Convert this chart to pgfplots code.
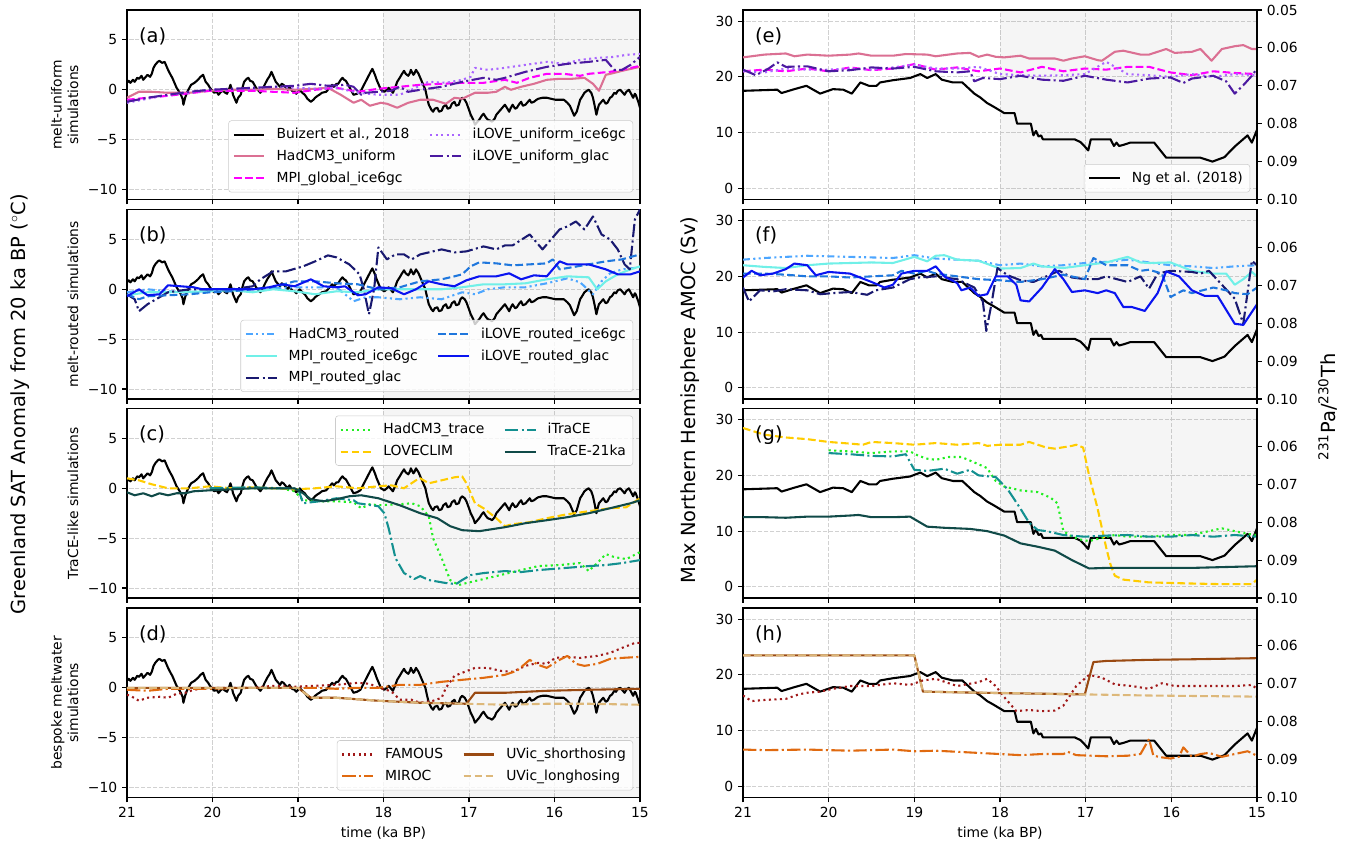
\documentclass[border=0pt]{standalone}
\usepackage{fontspec}
\setmainfont{DejaVu Sans}
\usepackage{pgfplots}
\pgfplotsset{compat=1.18}
\usepackage{pgfplotstable}

\definecolor{hadpink}{HTML}{DB7093}
\definecolor{mpimag}{HTML}{FF00FF}
\definecolor{ilovepurp}{HTML}{AA66FF}
\definecolor{iloveglac}{HTML}{4B1AA0}
\definecolor{hadrouted}{HTML}{4DA6FF}
\definecolor{mpirouted}{HTML}{70F0E8}
\definecolor{mpiglac}{HTML}{191970}
\definecolor{iloverouted}{HTML}{1F77DD}
\definecolor{iloveroutedglac}{HTML}{0A14F0}
\definecolor{hadtrace}{HTML}{22EE22}
\definecolor{loveclim}{HTML}{FFCC00}
\definecolor{itrace}{HTML}{139090}
\definecolor{trace21}{HTML}{104A48}
\definecolor{famous}{HTML}{A01818}
\definecolor{miroc}{HTML}{E06A10}
\definecolor{uvicshort}{HTML}{9A4A12}
\definecolor{uviclong}{HTML}{DDB87A}

\newcommand{\lea}[1]{\hbox to 6pt{}#1\hbox to 12pt{}}
\newcommand{\leb}[1]{\hbox to 6pt{}#1}

\tikzset{
  lsolid/.style={line width=1.5pt},
  ldashed/.style={line width=1.5pt, dash pattern=on 5.55pt off 2.4pt},
  ldotted/.style={line width=1.5pt, dash pattern=on 1.5pt off 2.475pt},
  ldashdot/.style={line width=1.5pt, dash pattern=on 9.6pt off 2.4pt on 1.5pt off 2.4pt},
  ldashdotdot/.style={line width=1.5pt, dash pattern=on 5pt off 2.4pt on 1.5pt off 2.4pt on 1.5pt off 2.4pt},
}

\pgfplotsset{
  panelbase/.style={
    scale only axis, anchor=north west, height=136.44pt,
    xmin=15, xmax=21, x dir=reverse,
    xtick={15,16,17,18,19,20,21},
    xticklabels={15,16,17,18,19,20,21},
    tick align=outside, xtick pos=left, ytick pos=left,
    major tick length=3.5pt,
    every tick/.style={black, line width=0.8pt},
    axis line style={line width=0.8pt},
    grid=major,
    grid style={black!18, line width=0.7pt, dash pattern=on 2.96pt off 1.28pt},
    tick label style={font=\fontsize{10}{12}\selectfont},
    label style={font=\fontsize{10}{12}\selectfont},
    every axis plot/.append style={line join=round},
    legend cell align=left,
    legend image code/.code={\draw[##1] (0pt,0pt) -- (22pt,0pt);},
    legend style={draw=black!20, fill=white, fill opacity=0.8, text opacity=1,
      rounded corners=2pt, font=\fontsize{10}{12}\selectfont,
      inner xsep=3pt, inner ysep=3.5pt, row sep=2.6pt},
  },
  leftpanel/.style={panelbase, width=369.36pt, ymin=-11, ymax=8,
    ytick={-10,-5,0,5}, yticklabels={−10,−5,0,5},
    ylabel style={align=center}},
  rightpanel/.style={panelbase, width=370.08pt, ymin=-2, ymax=32,
    ytick={0,10,20,30}, yticklabels={0,10,20,30}},
  notick/.style={xticklabels={}},
  rightaxis/.style={scale only axis, anchor=north west, width=370.08pt, height=136.44pt,
    xmin=15, xmax=21, hide x axis, axis y line*=right,
    ymin=0.05, ymax=0.10, y dir=reverse,
    ytick={0.06,0.07,0.08,0.09,0.10},
    yticklabels={0.06,0.07,0.08,0.09,0.10},
    tick align=outside, major tick length=3.5pt,
    every tick/.style={black, line width=0.8pt},
    axis line style={line width=0.8pt},
    tick label style={font=\fontsize{10}{12}\selectfont}},
  lowright/.style={legend style={at={(0.9865,0.037)}, anchor=south east}},
  upright/.style={legend style={at={(0.9865,0.963)}, anchor=north east}},
}

\pgfplotstableread{
x y
21.00 0.7
20.98 0.9
20.96 0.7
20.93 1.0
20.91 0.8
20.88 1.2
20.86 1.1
20.83 1.4
20.81 1.0
20.78 1.3
20.76 1.5
20.73 1.3
20.71 1.6
20.69 2.2
20.67 2.5
20.64 2.8
20.62 2.9
20.59 2.7
20.56 2.8
20.54 2.4
20.52 2.0
20.49 1.5
20.47 1.2
20.44 0.6
20.42 0.2
20.39 -0.2
20.37 -0.5
20.35 -0.9
20.34 -1.5
20.32 -0.8
20.30 -0.3
20.27 0.2
20.25 0.5
20.21 0.7
20.17 1.0
20.14 1.3
20.11 1.5
20.08 0.8
20.05 0.5
20.03 0.2
20.00 -0.1
19.98 -0.3
19.95 -0.2
19.93 -0.5
19.90 -0.2
19.88 -0.1
19.85 -0.3
19.83 -0.4
19.81 0.0
19.79 0.5
19.77 -0.1
19.76 -0.5
19.74 -0.9
19.72 -1.3
19.70 -0.8
19.67 -0.5
19.65 0.2
19.63 0.8
19.60 1.1
19.58 1.2
19.56 0.9
19.53 0.8
19.51 0.5
19.49 0.2
19.46 -0.1
19.44 -0.3
19.41 0.1
19.39 0.5
19.36 1.0
19.33 1.4
19.31 1.8
19.28 1.2
19.26 0.8
19.23 0.5
19.21 0.3
19.19 0.6
19.17 0.5
19.14 0.2
19.12 0.0
19.10 0.3
19.07 -0.1
19.04 -0.2
19.02 -0.4
18.98 0.0
18.95 -0.3
18.92 -0.5
18.89 -0.9
18.85 -1.2
18.82 -1.0
18.80 -0.8
18.77 -0.6
18.75 -0.5
18.72 -0.3
18.67 -0.2
18.64 0.1
18.62 0.3
18.60 0.5
18.58 0.3
18.55 0.6
18.53 0.6
18.50 1.0
18.48 1.2
18.46 1.0
18.44 0.9
18.42 0.6
18.40 0.3
18.37 -0.2
18.35 -0.5
18.31 -0.4
18.27 -0.2
18.24 0.3
18.21 0.8
18.18 1.3
18.15 1.8
18.13 2.1
18.10 1.5
18.08 1.0
18.05 0.4
18.03 0.0
17.99 -0.2
17.96 0.0
17.94 0.2
17.91 -0.1
17.89 -0.3
17.86 0.3
17.84 0.8
17.81 1.2
17.79 1.5
17.76 1.9
17.74 1.6
17.71 1.4
17.69 1.7
17.68 2.0
17.65 1.5
17.64 1.6
17.62 2.0
17.59 1.6
17.57 1.2
17.54 0.6
17.51 0.0
17.49 -0.8
17.47 -1.5
17.44 -2.0
17.42 -2.2
17.40 -1.9
17.37 -1.8
17.35 -2.2
17.32 -2.1
17.30 -1.7
17.27 -1.5
17.25 -1.9
17.22 -1.8
17.20 -1.4
17.17 -1.2
17.15 -1.6
17.12 -1.5
17.10 -1.0
17.08 -0.8
17.05 -1.0
17.03 -1.3
17.00 -2.0
16.98 -2.5
16.95 -3.0
16.93 -3.5
16.90 -3.2
16.88 -3.0
16.85 -2.6
16.83 -2.4
16.80 -2.8
16.78 -3.0
16.75 -3.1
16.73 -3.2
16.70 -2.9
16.68 -2.5
16.65 -2.2
16.63 -2.0
16.60 -1.7
16.58 -1.5
16.55 -1.9
16.53 -2.2
16.51 -1.8
16.49 -1.5
16.46 -1.9
16.44 -1.8
16.41 -1.4
16.39 -1.2
16.37 -1.6
16.34 -1.5
16.31 -1.2
16.29 -1.0
16.27 -1.3
16.24 -1.2
16.21 -1.0
16.19 -0.9
16.14 -0.8
16.09 -0.8
16.04 -0.9
15.99 -1.0
15.94 -1.0
15.89 -1.0
15.85 -1.3
15.82 -1.6
15.79 -2.2
15.77 -2.6
15.74 -2.2
15.72 -1.6
15.70 -1.0
15.67 -0.6
15.65 -0.3
15.62 -0.1
15.60 0.0
15.57 -0.3
15.55 -0.8
15.53 -1.6
15.51 -2.5
15.49 -1.8
15.48 -1.5
15.45 -1.2
15.43 -1.0
15.40 -1.4
15.38 -1.3
15.35 -0.8
15.33 -0.7
15.30 -0.3
15.28 -0.4
15.26 -0.1
15.23 0.0
15.21 -0.2
15.18 -0.5
15.16 -0.2
15.13 0.0
15.11 -0.3
15.08 -0.8
15.06 -0.4
15.05 -0.5
15.02 -1.2
15.00 -1.8
}\buizert

\pgfplotstableread{
x y
21.00 17.5
20.60 17.7
20.55 17.1
20.40 17.8
20.26 18.4
20.10 17.0
19.95 17.8
19.83 17.7
19.73 17.0
19.63 19.0
19.53 18.4
19.44 18.4
19.40 19.0
19.25 19.4
19.05 19.8
18.93 20.5
18.85 19.8
18.75 20.5
18.68 19.5
18.55 19.0
18.44 19.0
18.30 17.0
18.23 16.3
18.15 15.3
18.08 14.7
17.95 13.5
17.83 13.5
17.80 11.6
17.64 11.6
17.61 9.5
17.58 10.3
17.55 9.3
17.52 9.5
17.50 8.8
17.38 8.8
17.23 8.8
17.13 8.8
17.06 8.3
17.01 7.5
16.97 6.8
16.94 8.8
16.71 8.8
16.67 7.6
16.64 8.2
16.61 7.6
16.56 7.8
16.48 8.2
16.20 8.2
16.06 5.5
15.66 5.5
15.52 4.8
15.38 5.6
15.26 7.5
15.11 9.5
15.06 8.2
15.00 10.5
}\ng

\begin{document}
\begin{tikzpicture}
\useasboundingbox (0,0) rectangle (970.56pt,-606.96pt);

% ---------------- (a)
\begin{axis}[leftpanel, notick, at={(91.44pt,-7.2pt)}, ylabel={melt-uniform\\simulations},
  lowright, legend columns=2]
\addplot[draw=none, fill=gray, fill opacity=0.08, forget plot] coordinates {(18,-11) (18,8) (15,8) (15,-11)} -- cycle;
\addlegendimage{black, lsolid}\addlegendentry{\lea{Buizert et al., 2018}}
\addlegendimage{ilovepurp, ldotted}\addlegendentry{\leb{iLOVE\_uniform\_ice6gc}}
\addlegendimage{hadpink, lsolid}\addlegendentry{\lea{HadCM3\_uniform}}
\addlegendimage{iloveglac, ldashdot}\addlegendentry{\leb{iLOVE\_uniform\_glac}}
\addlegendimage{mpimag, ldashed}\addlegendentry{\lea{MPI\_global\_ice6gc}}
\addplot[black, lsolid, forget plot] table[x=x,y=y] {\buizert};
\addplot[hadpink, lsolid, forget plot] coordinates {(21,-0.8) (20.86,-0.2) (20.71,-0.2) (20.52,-0.3) (20.27,-0.3) (20.03,-0.1) (19.78,0.0) (19.53,0.0) (19.29,0.1) (19.04,0.0) (18.80,0.1) (18.65,0.2) (18.50,-0.5) (18.35,-1.3) (18.26,-1.0) (18.16,-1.6) (18.03,-1.3) (17.96,-1.4) (17.84,-1.8) (17.71,-1.3) (17.57,-1.0) (17.42,-1.0) (17.27,-1.4) (17.17,-0.8) (17.08,-0.9) (16.93,-0.3) (16.78,-0.3) (16.68,-0.2) (16.58,0.3) (16.51,0.0) (16.39,0.3) (16.24,0.6) (16.09,1.0) (15.94,1.1) (15.80,1.1) (15.65,1.2) (15.55,0.6) (15.48,-0.1) (15.40,1.5) (15.30,1.7) (15.21,1.9) (15.00,2.3)};
\addplot[mpimag, ldashed, forget plot] coordinates {(21,-1.0) (20.52,-0.6) (20.03,-0.1) (19.53,-0.1) (19.29,-0.2) (19.04,-0.3) (18.80,0.0) (18.55,0.2) (18.30,-0.2) (18.06,0.1) (17.81,0.3) (17.57,0.5) (17.32,0.6) (17.08,0.7) (16.83,0.7) (16.58,1.0) (16.44,0.7) (16.29,1.2) (16.09,1.6) (15.89,1.6) (15.70,1.4) (15.60,1.6) (15.35,1.8) (15.21,2.0) (15.00,2.4)};
\addplot[ilovepurp, ldotted, forget plot] coordinates {(21,-1.3) (20.76,-0.9) (20.52,-0.5) (20.27,-0.3) (20.03,0.0) (19.53,0.1) (19.29,0.3) (19.04,0.2) (18.80,0.1) (18.55,0.2) (18.30,-0.3) (18.06,-0.5) (17.81,-0.5) (17.62,0.2) (17.57,0.5) (17.47,0.8) (17.27,0.7) (17.08,1.0) (16.98,1.3) (16.93,2.2) (16.78,2.0) (16.58,2.2) (16.34,2.5) (16.09,2.8) (15.89,2.6) (15.70,3.0) (15.50,3.2) (15.30,3.3) (15.16,3.5) (15.00,3.6)};
\addplot[iloveglac, ldashdot, forget plot] coordinates {(21,-1.2) (20.76,-0.8) (20.52,-0.5) (20.27,-0.2) (20.03,0.0) (19.78,0.1) (19.53,0.2) (19.29,0.3) (19.04,0.4) (18.85,0.6) (18.65,0.4) (18.45,0.5) (18.35,0.3) (18.26,-0.5) (18.21,-0.3) (18.06,-0.2) (17.91,-0.1) (17.81,0.3) (17.71,-0.2) (17.57,0.0) (17.32,0.3) (17.08,0.8) (16.83,1.2) (16.68,1.0) (16.58,1.2) (16.34,1.8) (16.09,2.3) (15.85,2.6) (15.60,2.8) (15.40,3.0) (15.30,2.0) (15.21,2.0) (15.11,2.5) (15.00,3.3)};
\node[anchor=north west, inner sep=0pt, font=\fontsize{14}{16}\selectfont] at (rel axis cs:0.023,0.91) {(a)};
\end{axis}

% ---------------- (b)
\begin{axis}[leftpanel, notick, at={(91.44pt,-150.84pt)}, ylabel={melt-routed simulations},
  lowright, legend columns=2]
\addplot[draw=none, fill=gray, fill opacity=0.08, forget plot] coordinates {(18,-11) (18,8) (15,8) (15,-11)} -- cycle;
\addlegendimage{hadrouted, ldashdotdot}\addlegendentry{\lea{HadCM3\_routed}}
\addlegendimage{iloverouted, ldashed}\addlegendentry{\leb{iLOVE\_routed\_ice6gc}}
\addlegendimage{mpirouted, lsolid}\addlegendentry{\lea{MPI\_routed\_ice6gc}}
\addlegendimage{iloveroutedglac, lsolid}\addlegendentry{\leb{iLOVE\_routed\_glac}}
\addlegendimage{mpiglac, ldashdot}\addlegendentry{\lea{MPI\_routed\_glac}}
\addplot[black, lsolid, forget plot] table[x=x,y=y] {\buizert};
\addplot[hadrouted, ldashdotdot, forget plot] coordinates {(21,-0.3) (20.76,0.0) (20.52,-0.2) (20.27,-0.3) (20.03,-0.1) (19.53,0.0) (19.04,0.2) (18.55,0.2) (18.45,-0.5) (18.35,-1.2) (18.21,-0.8) (18.06,-0.8) (17.81,-1.0) (17.57,-0.8) (17.32,-1.0) (17.08,-0.3) (16.93,-0.5) (16.78,0.0) (16.58,0.2) (16.34,0.2) (16.09,0.6) (15.85,1.1) (15.70,0.7) (15.55,-0.5) (15.45,0.8) (15.35,1.6) (15.21,2.0) (15.00,2.2)};
\addplot[mpirouted, lsolid, forget plot] coordinates {(21,-0.6) (20.76,-0.3) (20.52,-0.3) (20.03,-0.2) (19.78,-0.1) (19.53,-0.3) (19.29,0.0) (19.04,-0.2) (18.80,-0.5) (18.55,-0.2) (18.30,-0.3) (18.06,0.0) (17.57,0.0) (17.32,0.0) (17.08,0.2) (16.83,0.5) (16.58,0.5) (16.34,0.6) (16.09,1.0) (15.85,1.3) (15.60,1.2) (15.50,0.0) (15.40,0.8) (15.26,1.5) (15.11,2.0) (15.00,2.3)};
\addplot[mpiglac, ldashdot, forget plot] coordinates {(21,-0.5) (20.91,-1.0) (20.86,-2.2) (20.76,-1.5) (20.52,-0.3) (20.27,0.0) (20.03,0.0) (19.78,0.0) (19.53,0.3) (19.44,1.0) (19.29,1.8) (19.14,1.8) (18.94,2.3) (18.80,2.8) (18.65,3.4) (18.55,3.2) (18.40,2.5) (18.28,1.5) (18.23,0.0) (18.17,-2.5) (18.11,0.0) (18.06,4.2) (17.96,3.0) (17.86,3.5) (17.76,3.5) (17.67,3.0) (17.57,3.5) (17.32,4.0) (17.17,3.7) (17.03,3.8) (16.83,4.3) (16.68,4.0) (16.58,4.4) (16.49,4.4) (16.29,5.5) (16.14,4.0) (16.04,5.0) (15.94,6.0) (15.85,6.3) (15.75,6.8) (15.65,6.0) (15.55,7.3) (15.45,5.5) (15.35,5.0) (15.26,4.0) (15.18,2.5) (15.12,2.0) (15.06,7.0) (15.00,8.0)};
\addplot[iloverouted, ldashed, forget plot] coordinates {(21,-0.5) (20.86,-1.0) (20.76,-0.7) (20.52,-0.6) (20.27,-0.5) (20.03,-0.3) (19.78,-0.2) (19.53,0.0) (19.29,0.2) (19.04,0.8) (18.80,0.8) (18.55,0.6) (18.30,0.5) (18.06,0.0) (17.81,0.2) (17.57,0.8) (17.32,1.0) (17.17,1.3) (17.08,1.5) (16.98,2.3) (16.88,2.7) (16.68,2.6) (16.49,2.4) (16.29,2.5) (16.09,2.6) (16.02,3.0) (15.94,2.0) (15.80,2.2) (15.60,2.5) (15.40,2.8) (15.21,3.0) (15.00,3.5)};
\addplot[iloveroutedglac, lsolid, forget plot] coordinates {(21,-0.7) (20.86,0.0) (20.76,-0.6) (20.62,-0.5) (20.52,0.4) (20.37,0.3) (20.22,0.2) (20.12,0.0) (20.03,0.0) (19.53,0.0) (19.34,0.2) (19.19,0.5) (19.04,0.3) (18.85,1.0) (18.70,0.3) (18.55,0.2) (18.45,0.3) (18.30,-0.6) (18.21,-0.5) (18.06,0.2) (17.91,0.1) (17.76,-0.5) (17.62,0.0) (17.47,0.8) (17.32,0.5) (17.17,0.3) (17.03,0.9) (16.88,1.3) (16.68,1.3) (16.53,1.6) (16.39,1.0) (16.24,1.4) (16.09,1.3) (15.94,2.8) (15.85,2.5) (15.60,2.5) (15.40,2.0) (15.26,1.5) (15.11,1.5) (15.00,1.8)};
\node[anchor=north west, inner sep=0pt, font=\fontsize{14}{16}\selectfont] at (rel axis cs:0.023,0.91) {(b)};
\end{axis}

% ---------------- (c)
\begin{axis}[leftpanel, notick, at={(91.44pt,-294.12pt)}, ylabel={TraCE-like simulations},
  upright, legend columns=2]
\addplot[draw=none, fill=gray, fill opacity=0.08, forget plot] coordinates {(18,-11) (18,8) (15,8) (15,-11)} -- cycle;
\addlegendimage{hadtrace, ldotted}\addlegendentry{\lea{HadCM3\_trace}}
\addlegendimage{itrace, ldashdot}\addlegendentry{\leb{iTraCE}}
\addlegendimage{loveclim, ldashed}\addlegendentry{\lea{LOVECLIM}}
\addlegendimage{trace21, lsolid}\addlegendentry{\leb{TraCE-21ka}}
\addplot[black, lsolid, forget plot] table[x=x,y=y] {\buizert};
\addplot[hadtrace, ldotted, forget plot] coordinates {(20.03,0.0) (19.53,0.0) (19.20,0.0) (19.04,-0.3) (18.94,-1.2) (18.75,-1.3) (18.55,-1.3) (18.35,-1.4) (18.26,-2.0) (18.16,-1.6) (18.06,-1.7) (17.81,-1.6) (17.67,-1.5) (17.57,-1.8) (17.47,-2.8) (17.42,-5.0) (17.32,-7.0) (17.22,-9.2) (17.12,-9.7) (17.03,-9.5) (16.88,-9.2) (16.68,-8.8) (16.44,-8.3) (16.19,-7.8) (15.94,-7.7) (15.70,-7.5) (15.60,-8.3) (15.50,-7.5) (15.40,-6.6) (15.30,-6.9) (15.16,-7.1) (15.00,-6.4)};
\addplot[loveclim, ldashed, forget plot] coordinates {(21,1.0) (20.86,0.8) (20.71,0.4) (20.52,0.0) (20.27,0.0) (20.03,0.2) (19.78,0.0) (19.53,0.1) (19.29,0.0) (19.04,-0.1) (18.80,0.0) (18.55,0.2) (18.30,0.0) (18.06,0.2) (17.91,0.3) (17.76,0.0) (17.62,0.8) (17.57,1.0) (17.47,0.5) (17.32,0.8) (17.17,1.1) (17.08,1.2) (17.03,0.5) (16.93,-1.5) (16.83,-2.0) (16.68,-3.0) (16.58,-3.8) (16.49,-3.6) (16.29,-3.4) (16.09,-3.0) (15.85,-2.6) (15.60,-2.3) (15.35,-2.0) (15.16,-1.9) (15.00,-1.0)};
\addplot[itrace, ldashdot, forget plot] coordinates {(20.03,0.0) (19.53,0.1) (19.20,0.0) (19.00,0.0) (18.94,-1.5) (18.75,-1.3) (18.55,-1.0) (18.35,-1.2) (18.30,-1.5) (18.06,-1.8) (17.99,-2.5) (17.94,-4.0) (17.86,-7.0) (17.76,-8.5) (17.64,-9.1) (17.57,-8.8) (17.47,-9.2) (17.27,-9.5) (17.15,-9.6) (17.08,-9.2) (16.98,-8.7) (16.83,-8.5) (16.58,-8.3) (16.39,-8.4) (16.19,-8.2) (15.89,-8.0) (15.60,-7.8) (15.40,-7.7) (15.21,-7.5) (15.00,-7.2)};
\addplot[trace21, lsolid, forget plot] coordinates {(21,-0.4) (20.91,-0.7) (20.81,-0.5) (20.71,-0.8) (20.62,-0.5) (20.52,-0.7) (20.42,-0.5) (20.32,-0.5) (20.22,-0.3) (20.03,-0.2) (19.78,-0.1) (19.53,0.0) (19.04,0.0) (18.94,-0.5) (18.85,-1.1) (18.70,-1.3) (18.55,-1.1) (18.40,-0.8) (18.26,-0.7) (18.06,-1.0) (17.81,-1.7) (17.57,-2.5) (17.37,-3.0) (17.22,-3.8) (17.08,-4.2) (16.88,-4.3) (16.73,-4.1) (16.58,-3.9) (16.34,-3.5) (16.09,-3.2) (15.85,-2.9) (15.60,-2.5) (15.35,-2.0) (15.11,-1.5) (15.00,-1.2)};
\node[anchor=north west, inner sep=0pt, font=\fontsize{14}{16}\selectfont] at (rel axis cs:0.023,0.91) {(c)};
\end{axis}

% ---------------- (d)
\begin{axis}[leftpanel, at={(91.44pt,-437.76pt)}, ylabel={bespoke meltwater\\simulations},
  xlabel={time (ka BP)}, lowright, legend columns=2]
\addplot[draw=none, fill=gray, fill opacity=0.08, forget plot] coordinates {(18,-11) (18,8) (15,8) (15,-11)} -- cycle;
\addlegendimage{famous, ldotted}\addlegendentry{\lea{FAMOUS}}
\addlegendimage{uvicshort, lsolid}\addlegendentry{\leb{UVic\_shorthosing}}
\addlegendimage{miroc, ldashdot}\addlegendentry{\lea{MIROC}}
\addlegendimage{uviclong, ldashed}\addlegendentry{\leb{UVic\_longhosing}}
\addplot[black, lsolid, forget plot] table[x=x,y=y] {\buizert};
\addplot[famous, ldotted, forget plot] coordinates {(21,-0.7) (20.96,-0.8) (20.86,-1.3) (20.76,-1.0) (20.62,-0.9) (20.52,-1.0) (20.42,-0.6) (20.32,-0.5) (20.22,-0.2) (20.03,0.0) (19.53,0.0) (19.29,0.2) (19.04,0.1) (18.80,0.2) (18.55,0.3) (18.30,0.5) (18.16,0.4) (18.06,0.0) (17.96,-0.2) (17.89,-0.5) (17.81,-1.2) (17.67,-1.2) (17.57,-1.5) (17.42,-1.3) (17.32,-1.0) (17.27,0.0) (17.17,1.2) (17.08,1.5) (16.93,2.0) (16.78,2.0) (16.63,1.7) (16.49,1.6) (16.34,2.2) (16.19,2.5) (16.09,2.4) (15.99,3.0) (15.85,3.1) (15.70,3.0) (15.50,3.2) (15.35,3.5) (15.21,4.0) (15.06,4.5) (15.00,4.5)};
\addplot[miroc, ldashdot, forget plot] coordinates {(21,-0.2) (20.76,-0.3) (20.52,-0.1) (20.03,-0.1) (19.53,0.0) (18.80,0.0) (18.55,-0.1) (18.30,0.0) (18.06,0.0) (17.81,0.3) (17.57,0.3) (17.32,0.6) (17.08,0.8) (16.83,1.0) (16.58,1.3) (16.44,1.7) (16.29,2.8) (16.19,2.3) (16.09,2.0) (15.94,2.8) (15.85,3.2) (15.75,2.4) (15.65,2.2) (15.50,2.4) (15.35,2.9) (15.21,3.0) (15.00,3.1)};
\addplot[uvicshort, lsolid, forget plot] coordinates {(21,0.0) (19.00,0.0) (18.85,-1.0) (18.55,-1.0) (18.06,-1.3) (17.57,-1.5) (17.03,-1.6) (16.93,-0.5) (16.58,-0.5) (16.09,-0.3) (15.60,-0.2) (15.00,-0.1)};
\addplot[uviclong, ldashed, forget plot] coordinates {(21,0.0) (19.00,0.0) (18.85,-1.0) (18.55,-1.0) (18.06,-1.3) (17.57,-1.5) (17.03,-1.6) (16.58,-1.7) (16.09,-1.6) (15.60,-1.6) (15.00,-1.7)};
\node[anchor=north west, inner sep=0pt, font=\fontsize{14}{16}\selectfont] at (rel axis cs:0.023,0.91) {(d)};
\end{axis}

% ---------------- (e)
\begin{axis}[rightpanel, notick, at={(534.96pt,-7.2pt)}, lowright]
\addplot[draw=none, fill=gray, fill opacity=0.08, forget plot] coordinates {(18,-2) (18,32) (15,32) (15,-2)} -- cycle;
\addlegendimage{black, lsolid}\addlegendentry{\leb{Ng et al. (2018)}}
\addplot[black, lsolid, forget plot] table[x=x,y=y] {\ng};
\addplot[hadpink, lsolid, forget plot] coordinates {(21,23.5) (20.75,24.0) (20.50,24.2) (20.40,23.7) (20.25,24.0) (20.00,23.8) (19.75,24.0) (19.65,24.2) (19.50,23.8) (19.25,23.8) (19.10,24.1) (18.85,24.0) (18.75,23.7) (18.50,24.2) (18.35,24.3) (18.25,23.6) (18.15,24.0) (18.05,23.6) (17.95,23.5) (17.76,23.8) (17.66,23.3) (17.51,23.3) (17.36,23.3) (17.26,22.9) (17.16,23.3) (17.01,23.7) (16.86,23.0) (16.81,22.9) (16.66,24.5) (16.56,24.7) (16.36,24.0) (16.26,24.0) (16.06,25.0) (15.96,24.3) (15.76,24.5) (15.66,25.0) (15.53,22.9) (15.41,25.0) (15.26,25.5) (15.16,25.7) (15.06,25.0) (15.00,25.0)};
\addplot[mpimag, ldashed, forget plot] coordinates {(21,21.0) (20.75,21.3) (20.50,21.0) (20.25,21.5) (20.00,21.0) (19.75,21.7) (19.50,21.2) (19.25,21.5) (19.00,22.3) (18.75,21.3) (18.50,21.7) (18.25,21.0) (18.00,21.5) (17.76,20.8) (17.51,21.8) (17.26,21.0) (17.01,21.5) (16.76,21.3) (16.51,21.8) (16.26,21.8) (16.01,20.8) (15.76,20.3) (15.51,21.0) (15.26,20.7) (15.00,20.5)};
\addplot[ilovepurp, ldotted, forget plot] coordinates {(21,21.0) (20.75,20.8) (20.50,21.5) (20.25,21.3) (20.00,21.3) (19.75,21.5) (19.50,21.3) (19.25,21.7) (19.00,22.2) (18.75,21.5) (18.50,21.5) (18.25,21.8) (18.00,20.5) (17.76,20.3) (17.51,20.2) (17.26,20.3) (17.01,20.5) (16.76,22.7) (16.51,20.5) (16.26,20.3) (16.01,20.0) (15.76,20.5) (15.51,20.0) (15.26,20.5) (15.00,20.3)};
\addplot[iloveglac, ldashdot, forget plot] coordinates {(21,21.3) (20.85,20.3) (20.70,21.5) (20.60,22.6) (20.50,21.8) (20.25,21.9) (20.00,21.0) (19.75,21.2) (19.50,21.7) (19.25,21.5) (19.00,21.8) (18.75,21.0) (18.50,20.8) (18.35,21.0) (18.30,19.2) (18.20,19.8) (18.00,19.6) (17.76,20.2) (17.51,19.5) (17.26,19.3) (17.01,20.2) (16.76,19.5) (16.51,19.0) (16.26,19.7) (16.01,19.9) (15.86,18.9) (15.76,19.7) (15.51,20.2) (15.36,19.2) (15.26,17.0) (15.16,18.5) (15.06,20.2) (15.00,21.5)};
\node[anchor=north west, inner sep=0pt, font=\fontsize{14}{16}\selectfont] at (rel axis cs:0.023,0.91) {(e)};
\end{axis}
\begin{axis}[rightaxis, at={(534.96pt,-7.2pt)}, ytick={0.05,0.06,0.07,0.08,0.09,0.10}, yticklabels={0.05,0.06,0.07,0.08,0.09,0.10}]
\addplot[draw=none] coordinates {(15,0.05)};
\end{axis}

% ---------------- (f)
\begin{axis}[rightpanel, notick, at={(534.96pt,-150.84pt)}]
\addplot[draw=none, fill=gray, fill opacity=0.08, forget plot] coordinates {(18,-2) (18,32) (15,32) (15,-2)} -- cycle;
\addplot[black, lsolid, forget plot] table[x=x,y=y] {\ng};
\addplot[hadrouted, ldashdotdot, forget plot] coordinates {(21,23.0) (20.75,23.3) (20.25,23.7) (19.75,23.5) (19.25,23.3) (19.00,23.8) (18.75,23.2) (18.50,23.0) (18.25,22.8) (18.00,22.0) (17.76,22.3) (17.51,21.8) (17.26,22.0) (17.01,22.4) (16.76,22.6) (16.51,23.0) (16.26,22.5) (16.01,22.0) (15.76,21.8) (15.51,21.5) (15.26,21.8) (15.00,22.0)};
\addplot[mpirouted, lsolid, forget plot] coordinates {(21,22.0) (20.75,21.7) (20.50,21.5) (20.25,22.0) (20.00,22.3) (19.75,22.4) (19.50,22.5) (19.25,22.4) (19.00,23.5) (18.85,22.7) (18.75,23.7) (18.65,23.8) (18.50,23.0) (18.25,22.8) (18.00,21.4) (17.76,21.5) (17.61,22.3) (17.51,21.8) (17.26,21.5) (17.01,22.0) (16.76,22.5) (16.51,23.5) (16.36,22.5) (16.26,22.4) (16.01,22.5) (15.76,21.0) (15.51,20.5) (15.36,20.5) (15.26,18.5) (15.16,19.5) (15.06,20.8) (15.00,20.0)};
\addplot[mpiglac, ldashdot, forget plot] coordinates {(21,18.0) (20.93,15.5) (20.80,17.5) (20.65,17.3) (20.50,17.7) (20.25,17.5) (20.10,16.8) (19.95,17.0) (19.75,17.2) (19.55,16.7) (19.45,17.5) (19.25,18.0) (19.05,19.5) (18.95,19.8) (18.75,20.0) (18.50,19.5) (18.30,18.0) (18.20,15.5) (18.16,10.2) (18.10,15.0) (18.03,21.5) (17.91,20.2) (17.76,19.3) (17.61,19.0) (17.46,20.0) (17.31,21.0) (17.16,19.8) (17.01,19.5) (16.86,19.5) (16.76,20.0) (16.51,19.0) (16.36,20.0) (16.26,17.8) (16.16,20.5) (16.01,21.0) (15.76,20.8) (15.66,20.5) (15.56,21.0) (15.41,18.5) (15.26,16.0) (15.16,11.5) (15.06,22.8) (15.00,22.0)};
\addplot[iloverouted, ldashed, forget plot] coordinates {(21,20.5) (20.75,20.5) (20.50,20.3) (20.25,20.0) (20.00,20.0) (19.75,19.8) (19.50,20.0) (19.25,20.2) (19.15,21.0) (19.00,20.5) (18.85,21.0) (18.75,20.5) (18.50,20.0) (18.25,19.5) (18.00,19.3) (17.76,19.0) (17.51,19.5) (17.26,20.3) (17.01,19.5) (16.91,23.3) (16.76,22.0) (16.51,22.0) (16.36,21.0) (16.26,21.2) (16.11,20.5) (16.01,16.3) (15.86,17.5) (15.76,17.0) (15.51,18.0) (15.36,17.5) (15.26,17.0) (15.11,16.8) (15.00,18.0)};
\addplot[iloveroutedglac, lsolid, forget plot] coordinates {(21,19.8) (20.90,21.0) (20.80,20.2) (20.65,20.5) (20.50,21.3) (20.40,22.3) (20.25,22.0) (20.15,20.2) (20.00,20.8) (19.75,20.5) (19.50,19.0) (19.35,18.0) (19.25,18.5) (19.15,20.5) (19.00,21.0) (18.85,21.0) (18.75,21.8) (18.65,20.0) (18.50,18.8) (18.45,17.5) (18.35,18.0) (18.25,16.5) (18.15,16.8) (18.05,20.0) (17.91,20.0) (17.81,18.5) (17.76,15.7) (17.66,15.5) (17.51,18.0) (17.36,21.3) (17.26,19.5) (17.16,17.2) (17.01,17.5) (16.86,17.0) (16.76,17.5) (16.66,17.0) (16.56,14.5) (16.46,14.5) (16.31,13.8) (16.16,17.0) (16.06,20.9) (15.91,20.0) (15.76,17.5) (15.61,16.5) (15.46,16.5) (15.26,11.5) (15.16,11.3) (15.00,15.0)};
\node[anchor=north west, inner sep=0pt, font=\fontsize{14}{16}\selectfont] at (rel axis cs:0.023,0.91) {(f)};
\end{axis}
\begin{axis}[rightaxis, at={(534.96pt,-150.84pt)}]
\addplot[draw=none] coordinates {(15,0.05)};
\end{axis}

% ---------------- (g)
\begin{axis}[rightpanel, notick, at={(534.96pt,-294.12pt)}]
\addplot[draw=none, fill=gray, fill opacity=0.08, forget plot] coordinates {(18,-2) (18,32) (15,32) (15,-2)} -- cycle;
\addplot[black, lsolid, forget plot] table[x=x,y=y] {\ng};
\addplot[hadtrace, ldotted, forget plot] coordinates {(20.00,24.5) (19.75,24.3) (19.50,24.0) (19.25,24.3) (19.05,24.3) (18.95,23.5) (18.85,23.0) (18.75,22.8) (18.60,23.3) (18.45,23.3) (18.25,22.0) (18.15,21.3) (18.05,19.0) (17.95,18.0) (17.76,17.3) (17.56,17.0) (17.41,16.0) (17.33,15.0) (17.26,10.0) (17.16,9.0) (17.06,8.5) (16.96,8.2) (16.81,8.8) (16.66,9.3) (16.51,9.0) (16.26,9.0) (16.01,9.3) (15.76,9.3) (15.56,10.0) (15.41,10.5) (15.26,10.0) (15.11,9.5) (15.00,9.3)};
\addplot[loveclim, ldashed, forget plot] coordinates {(21,28.5) (20.75,27.3) (20.50,26.8) (20.25,26.5) (20.00,26.0) (19.75,25.7) (19.60,25.5) (19.50,26.0) (19.25,25.8) (19.00,25.5) (18.75,25.8) (18.50,25.5) (18.25,25.8) (18.15,25.3) (18.00,25.5) (17.76,25.5) (17.66,26.0) (17.46,25.0) (17.36,24.8) (17.16,25.3) (17.11,25.5) (17.03,25.0) (16.96,20.0) (16.86,14.0) (16.76,7.0) (16.71,4.0) (16.66,2.0) (16.56,1.3) (16.26,0.8) (16.01,0.7) (15.76,0.6) (15.46,0.5) (15.26,0.5) (15.06,0.5) (15.00,1.3)};
\addplot[itrace, ldashdot, forget plot] coordinates {(20.00,24.0) (19.75,23.8) (19.50,23.5) (19.25,23.4) (19.10,23.8) (19.00,21.0) (18.85,20.8) (18.65,21.2) (18.50,20.3) (18.35,21.0) (18.25,20.0) (18.05,19.7) (17.91,17.5) (17.76,14.0) (17.66,11.5) (17.56,10.2) (17.46,10.0) (17.26,9.3) (17.01,9.0) (16.76,9.2) (16.51,9.3) (16.26,9.0) (16.01,9.0) (15.76,9.3) (15.51,9.0) (15.26,9.3) (15.00,9.0)};
\addplot[trace21, lsolid, forget plot] coordinates {(21,12.5) (20.75,12.5) (20.50,12.4) (20.25,12.6) (20.00,12.6) (19.75,12.8) (19.65,12.9) (19.50,12.5) (19.25,12.5) (19.05,12.6) (18.85,10.8) (18.65,10.6) (18.35,10.4) (18.15,10.0) (17.95,9.2) (17.76,7.8) (17.56,7.2) (17.36,6.5) (17.16,4.8) (16.96,3.3) (16.76,3.4) (16.26,3.4) (15.76,3.4) (15.26,3.6) (15.00,3.7)};
\node[anchor=north west, inner sep=0pt, font=\fontsize{14}{16}\selectfont] at (rel axis cs:0.023,0.91) {(g)};
\end{axis}
\begin{axis}[rightaxis, at={(534.96pt,-294.12pt)}]
\addplot[draw=none] coordinates {(15,0.05)};
\end{axis}

% ---------------- (h)
\begin{axis}[rightpanel, at={(534.96pt,-437.76pt)}, xlabel={time (ka BP)}]
\addplot[draw=none, fill=gray, fill opacity=0.08, forget plot] coordinates {(18,-2) (18,32) (15,32) (15,-2)} -- cycle;
\addplot[black, lsolid, forget plot] table[x=x,y=y] {\ng};
\addplot[famous, ldotted, forget plot] coordinates {(21,16.3) (20.90,15.3) (20.75,15.5) (20.50,15.7) (20.35,16.5) (20.25,16.8) (20.10,17.0) (19.95,17.5) (19.75,18.0) (19.50,18.0) (19.25,18.5) (19.05,18.2) (18.90,19.0) (18.75,19.3) (18.50,18.0) (18.25,18.7) (18.15,19.3) (18.05,18.0) (17.95,16.0) (17.81,13.5) (17.66,13.7) (17.51,13.5) (17.36,13.6) (17.26,14.5) (17.11,18.0) (16.96,20.0) (16.81,19.5) (16.66,18.3) (16.46,18.0) (16.26,17.5) (16.11,18.5) (15.96,18.0) (15.76,18.0) (15.51,18.0) (15.26,18.0) (15.06,18.2) (15.00,17.5)};
\addplot[miroc, ldashdot, forget plot] coordinates {(21,6.6) (20.75,6.5) (20.25,6.6) (19.75,6.4) (19.25,6.6) (19.00,6.3) (18.75,6.4) (18.50,6.2) (18.25,6.0) (18.00,5.8) (17.76,5.6) (17.51,5.8) (17.26,5.8) (17.21,6.2) (17.11,5.6) (16.76,5.4) (16.51,5.5) (16.36,5.8) (16.26,8.5) (16.21,5.5) (16.11,5.2) (16.01,5.0) (15.91,5.3) (15.86,7.0) (15.76,5.3) (15.66,5.8) (15.56,6.0) (15.41,5.3) (15.26,5.8) (15.11,6.3) (15.00,5.5)};
\addplot[uvicshort, lsolid, forget plot] coordinates {(21,23.5) (19.00,23.5) (18.90,17.0) (18.25,16.8) (17.01,16.5) (16.91,22.3) (16.76,22.5) (16.26,22.7) (15.76,22.8) (15.00,23.0)};
\addplot[uviclong, ldashed, forget plot] coordinates {(21,23.5) (19.00,23.5) (18.90,17.0) (17.01,16.5) (16.26,16.3) (15.00,16.1)};
\node[anchor=north west, inner sep=0pt, font=\fontsize{14}{16}\selectfont] at (rel axis cs:0.023,0.91) {(h)};
\end{axis}
\begin{axis}[rightaxis, at={(534.96pt,-437.76pt)}]
\addplot[draw=none] coordinates {(15,0.05)};
\end{axis}

% ---------------- figure labels
\node[rotate=90, font=\fontsize{14}{17}\selectfont] at (14.4pt,-290.9pt) {Greenland SAT Anomaly from 20 ka BP (${}^\circ$C)};
\node[rotate=90, font=\fontsize{14}{17}\selectfont] at (496.8pt,-288pt) {Max Northern Hemisphere AMOC (Sv)};
\node[rotate=90, font=\fontsize{14}{17}\selectfont] at (956pt,-293pt) {\textsuperscript{231}Pa/\textsuperscript{230}Th};
\end{tikzpicture}
\end{document}
